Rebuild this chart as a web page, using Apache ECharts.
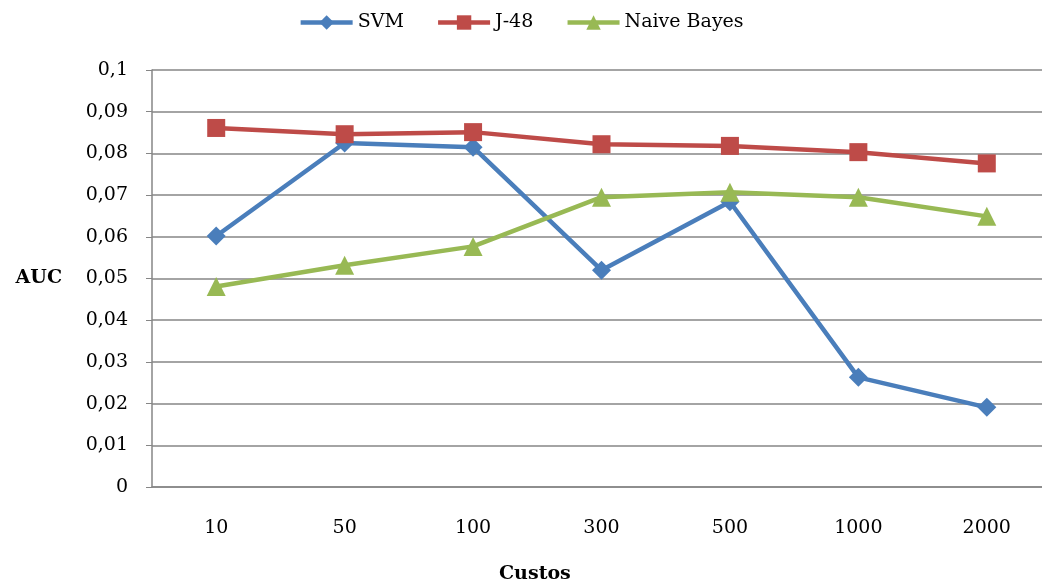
<!DOCTYPE html>
<html>
<head>
<meta charset="utf-8">
<script src="https://cdn.jsdelivr.net/npm/echarts@6/dist/echarts.min.js"></script>
<style>
  html, body { margin: 0; padding: 0; background: #fff; }
  #chart { width: 1042px; height: 586px; }
</style>
</head>
<body>
<div id="chart"></div>
<script>
// AUC per cost level for three classifiers
const categories = ['10', '50', '100', '300', '500', '1000', '2000'];
const svm = [0.0602, 0.0825, 0.0815, 0.0520, 0.0684, 0.0263, 0.0191];
const j48 = [0.0861, 0.0846, 0.0851, 0.0822, 0.0818, 0.0803, 0.0776];
const naiveBayes = [0.0481, 0.0532, 0.0577, 0.0695, 0.0707, 0.0695, 0.0649];
const seriesNames = ['SVM', 'J-48', 'Naive Bayes'];

const FONT = '"DejaVu Serif", "Liberation Serif", serif';
const AXIS_GREY = '#868686';

const chart = echarts.init(document.getElementById('chart'));

function lineSeries(name, data, color, symbol, size) {
  return {
    name: name,
    type: 'line',
    data: data,
    symbol: symbol,
    symbolSize: size,
    lineStyle: { color: color, width: 4.5 },
    itemStyle: { color: color },
    animation: false
  };
}

chart.setOption({
  backgroundColor: '#fff',
  textStyle: { fontFamily: FONT },
  legend: {
    top: 8,
    left: 'center',
    itemWidth: 52,
    itemHeight: 18,
    itemGap: 32,
    lineStyle: { width: 4.5 },
    textStyle: { fontFamily: FONT, fontSize: 19, color: '#000' },
    data: seriesNames
  },
  grid: {
    left: 152, top: 70, right: -9, bottom: 99,
    containLabel: false,
    outerBoundsMode: 'none'
  },
  xAxis: {
    type: 'category',
    data: categories,
    boundaryGap: true,
    axisLine: { lineStyle: { color: AXIS_GREY, width: 1.5 } },
    axisTick: { length: 6, lineStyle: { color: AXIS_GREY } },
    axisLabel: { fontFamily: FONT, fontSize: 19, color: '#000', margin: 32 }
  },
  yAxis: {
    type: 'value',
    min: 0,
    max: 0.1,
    interval: 0.01,
    name: 'AUC',
    nameLocation: 'middle',
    nameRotate: 0,
    nameGap: 90,
    nameTextStyle: { fontFamily: FONT, fontSize: 19, fontWeight: 'bold', color: '#000' },
    axisLine: { show: true, lineStyle: { color: AXIS_GREY, width: 1.5 } },
    axisTick: { show: true, length: 6, lineStyle: { color: AXIS_GREY } },
    splitLine: { lineStyle: { color: AXIS_GREY, width: 1.5 } },
    axisLabel: {
      fontFamily: FONT, fontSize: 19, color: '#000', margin: 24,
      formatter: v => String(Math.round(v * 100) / 100).replace('.', ',')
    }
  },
  graphic: [{
    type: 'text',
    left: 499,
    top: 565,
    style: { text: 'Custos', font: 'bold 19px ' + FONT, fill: '#000' }
  }],
  series: [
    lineSeries('SVM', svm, '#4A7EBB', 'diamond', 19),
    lineSeries('J-48', j48, '#BE4B48', 'rect', 18),
    lineSeries('Naive Bayes', naiveBayes, '#98B954', 'triangle', 19)
  ]
});
</script>
</body>
</html>
